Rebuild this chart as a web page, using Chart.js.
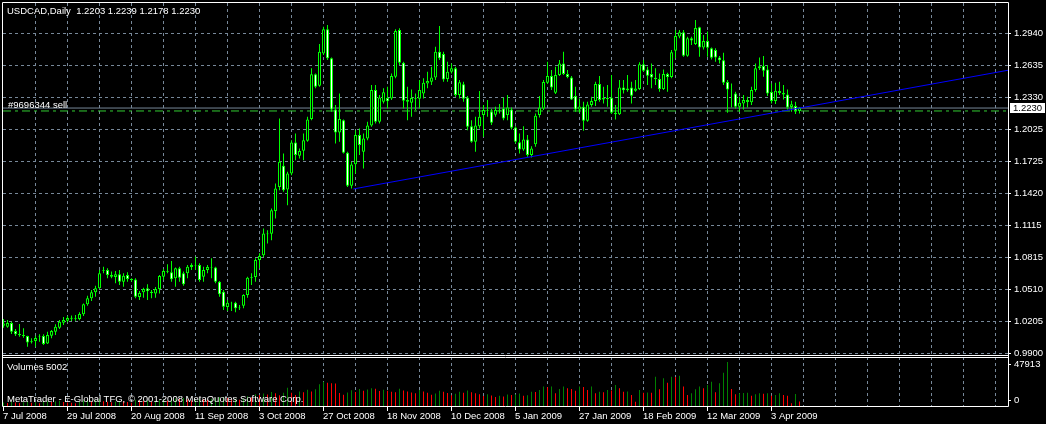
<!DOCTYPE html>
<html>
<head>
<meta charset="utf-8">
<script src="https://cdn.jsdelivr.net/npm/chart.js@4/dist/chart.umd.min.js"></script>
<style>
  html, body { margin: 0; padding: 0; background: #000; }
  #wrap { position: relative; width: 1046px; height: 424px; overflow: hidden; background: #000; }
  #chart { position: absolute; left: 0; top: 0; }
  .lbl { position: absolute; color: #fff; font: 9.5px "Liberation Sans", Arial, sans-serif; white-space: pre; line-height: 1; }
  .bid { position: absolute; left: 1010px; top: 103px; width: 35px; height: 10px; background: #fff; color: #000;
         font: 9.5px "Liberation Sans", Arial, sans-serif; line-height: 10px; text-align: center; }
</style>
</head>
<body>
<div id="wrap">
  <canvas id="chart" width="1046" height="424"></canvas>
  <div class="lbl" style="left:7px;top:6px">USDCAD,Daily  1.2203 1.2239 1.2178 1.2230</div>
  <div class="lbl" style="left:8px;top:100px">#9696344 sell</div>
  <div class="lbl" style="left:7px;top:362px">Volumes 5002</div>
  <div class="lbl" style="left:7px;top:394px">MetaTrader - E-Global TFG, © 2001-2008 MetaQuotes Software Corp.</div>
  <div class="bid">1.2230</div>
</div>
<script>
// USDCAD daily, 7 Jul 2008 .. Apr 2009 (one entry per bar)
const opens = [
  1.0162, 1.0152, 1.0187, 1.0111, 1.0083, 1.0075, 1.0064, 1.0005, 1.0016, 1.0058,
  1.0064, 0.9994, 1.0067, 1.0105, 1.0143, 1.0190, 1.0209, 1.0238, 1.0228, 1.0225,
  1.0270, 1.0365, 1.0422, 1.0479, 1.0517, 1.0682, 1.0691, 1.0644, 1.0625, 1.0650,
  1.0580, 1.0644, 1.0606, 1.0600, 1.0435, 1.0479, 1.0517, 1.0485, 1.0469, 1.0511,
  1.0628, 1.0682, 1.0669, 1.0612, 1.0707, 1.0660, 1.0660, 1.0720, 1.0739, 1.0739,
  1.0628, 1.0691, 1.0717, 1.0714, 1.0580, 1.0485, 1.0340, 1.0381, 1.0381, 1.0327,
  1.0352, 1.0454, 1.0618, 1.0625, 1.0786, 1.0832, 1.1038, 1.1035, 1.1253, 1.1481,
  1.1681, 1.1456, 1.1608, 1.1903, 1.1776, 1.1824, 1.1919, 1.2125, 1.2550, 1.2442,
  1.2749, 1.2978, 1.2702, 1.2217, 1.1998, 1.2115, 1.1805, 1.1491, 1.1697, 1.1973,
  1.1814, 1.1941, 1.2065, 1.2401, 1.2100, 1.2290, 1.2325, 1.2321, 1.2527, 1.2971,
  1.2661, 1.2290, 1.2280, 1.2325, 1.2318, 1.2369, 1.2464, 1.2480, 1.2521, 1.2765,
  1.2743, 1.2505, 1.2575, 1.2607, 1.2353, 1.2455, 1.2328, 1.2058, 1.1909, 1.2058,
  1.2163, 1.2211, 1.2198, 1.2166, 1.2211, 1.2226, 1.2163, 1.2217, 1.2046, 1.1906,
  1.1836, 1.1932, 1.1783, 1.1887, 1.2163, 1.2226, 1.2470, 1.2534, 1.2375, 1.2543,
  1.2654, 1.2553, 1.2521, 1.2344, 1.2217, 1.2242, 1.2109, 1.2258, 1.2296, 1.2458,
  1.2312, 1.2325, 1.2328, 1.2185, 1.2170, 1.2426, 1.2398, 1.2426, 1.2394, 1.2410,
  1.2645, 1.2597, 1.2553, 1.2518, 1.2505, 1.2410, 1.2553, 1.2525, 1.2775, 1.2910,
  1.2949, 1.2727, 1.2892, 1.2838, 1.2997, 1.2806, 1.2867, 1.2797, 1.2781, 1.2711,
  1.2683, 1.2477, 1.2407, 1.2369, 1.2242, 1.2274, 1.2306, 1.2285, 1.2401, 1.2607,
  1.2629, 1.2597, 1.2382, 1.2296, 1.2391, 1.2372, 1.2359, 1.2240, 1.2249, 1.2203
];
const highs = [
  1.0225, 1.0216, 1.0200, 1.0130, 1.0178, 1.0137, 1.0067, 1.0042, 1.0067, 1.0080,
  1.0080, 1.0105, 1.0121, 1.0175, 1.0216, 1.0244, 1.0254, 1.0260, 1.0263, 1.0289,
  1.0374, 1.0447, 1.0501, 1.0542, 1.0691, 1.0723, 1.0707, 1.0676, 1.0682, 1.0691,
  1.0660, 1.0669, 1.0612, 1.0612, 1.0492, 1.0523, 1.0555, 1.0501, 1.0530, 1.0644,
  1.0701, 1.0745, 1.0777, 1.0714, 1.0723, 1.0676, 1.0739, 1.0755, 1.0818, 1.0755,
  1.0723, 1.0739, 1.0802, 1.0723, 1.0587, 1.0501, 1.0406, 1.0390, 1.0390, 1.0359,
  1.0460, 1.0628, 1.0660, 1.0802, 1.0850, 1.1085, 1.1069, 1.1275, 1.1513, 1.2131,
  1.1798, 1.1624, 1.1925, 1.1989, 1.1846, 1.1989, 1.2147, 1.2607, 1.2559, 1.2838,
  1.3003, 1.3019, 1.2711, 1.2258, 1.2369, 1.2122, 1.1814, 1.1719, 1.2020, 1.2036,
  1.1989, 1.2100, 1.2448, 1.2448, 1.2353, 1.2417, 1.2432, 1.2559, 1.2978, 1.2987,
  1.2670, 1.2432, 1.2407, 1.2369, 1.2496, 1.2512, 1.2575, 1.2623, 1.2813, 1.3009,
  1.2765, 1.2670, 1.2654, 1.2623, 1.2496, 1.2480, 1.2344, 1.2115, 1.2147, 1.2391,
  1.2258, 1.2306, 1.2223, 1.2242, 1.2268, 1.2331, 1.2353, 1.2236, 1.2058, 1.1989,
  1.2058, 1.1973, 1.1868, 1.2179, 1.2344, 1.2496, 1.2670, 1.2591, 1.2623, 1.2686,
  1.2765, 1.2591, 1.2534, 1.2432, 1.2321, 1.2290, 1.2290, 1.2337, 1.2480, 1.2534,
  1.2432, 1.2448, 1.2543, 1.2258, 1.2496, 1.2496, 1.2543, 1.2480, 1.2496, 1.2664,
  1.2686, 1.2623, 1.2654, 1.2607, 1.2559, 1.2597, 1.2566, 1.2781, 1.2971, 1.2971,
  1.2971, 1.2908, 1.2908, 1.3066, 1.3003, 1.2924, 1.2956, 1.2806, 1.2797, 1.2724,
  1.2756, 1.2496, 1.2464, 1.2385, 1.2337, 1.2353, 1.2337, 1.2432, 1.2654, 1.2711,
  1.2724, 1.2638, 1.2464, 1.2471, 1.2480, 1.2448, 1.2407, 1.2299, 1.2290, 1.2239
];
const lows = [
  1.0143, 1.0143, 1.0083, 1.0064, 1.0057, 1.0048, 0.9962, 0.9994, 0.9962, 1.0010,
  0.9978, 0.9988, 1.0042, 1.0073, 1.0130, 1.0168, 1.0194, 1.0206, 1.0209, 1.0213,
  1.0254, 1.0352, 1.0397, 1.0438, 1.0511, 1.0660, 1.0612, 1.0612, 1.0565, 1.0549,
  1.0533, 1.0580, 1.0580, 1.0422, 1.0406, 1.0428, 1.0406, 1.0422, 1.0428, 1.0469,
  1.0596, 1.0660, 1.0580, 1.0533, 1.0580, 1.0542, 1.0612, 1.0691, 1.0691, 1.0580,
  1.0580, 1.0660, 1.0612, 1.0565, 1.0438, 1.0311, 1.0301, 1.0301, 1.0289, 1.0311,
  1.0327, 1.0428, 1.0549, 1.0580, 1.0707, 1.0816, 1.0943, 1.0974, 1.1180, 1.1450,
  1.1434, 1.1307, 1.1592, 1.1735, 1.1751, 1.1735, 1.1909, 1.2115, 1.2417, 1.2432,
  1.2734, 1.2686, 1.2195, 1.1894, 1.1909, 1.1798, 1.1481, 1.1466, 1.1608, 1.1783,
  1.1656, 1.1925, 1.2052, 1.2084, 1.2084, 1.2274, 1.2226, 1.2306, 1.2512, 1.2639,
  1.2226, 1.2115, 1.2147, 1.2211, 1.2226, 1.2321, 1.2417, 1.2448, 1.2496, 1.2686,
  1.2480, 1.2480, 1.2559, 1.2337, 1.2321, 1.2290, 1.2020, 1.1900, 1.1814, 1.2036,
  1.1957, 1.2147, 1.2068, 1.2147, 1.2179, 1.2115, 1.2115, 1.2027, 1.1894, 1.1798,
  1.1824, 1.1767, 1.1760, 1.1862, 1.2141, 1.2211, 1.2458, 1.2401, 1.2363, 1.2534,
  1.2543, 1.2512, 1.2306, 1.2195, 1.2185, 1.2014, 1.2100, 1.2242, 1.2249, 1.2290,
  1.2274, 1.2242, 1.2173, 1.2122, 1.2163, 1.2369, 1.2385, 1.2274, 1.2385, 1.2401,
  1.2575, 1.2448, 1.2417, 1.2448, 1.2385, 1.2401, 1.2385, 1.2512, 1.2702, 1.2892,
  1.2718, 1.2718, 1.2829, 1.2829, 1.2718, 1.2787, 1.2718, 1.2692, 1.2670, 1.2654,
  1.2448, 1.2185, 1.2236, 1.2226, 1.2195, 1.2217, 1.2236, 1.2258, 1.2385, 1.2591,
  1.2528, 1.2344, 1.2274, 1.2268, 1.2353, 1.2312, 1.2217, 1.2195, 1.2173, 1.2178
];
const closes = [
  1.0184, 1.0187, 1.0105, 1.0080, 1.0073, 1.0064, 1.0003, 1.0015, 1.0045, 1.0062,
  0.9988, 1.0073, 1.0111, 1.0152, 1.0200, 1.0216, 1.0235, 1.0228, 1.0236, 1.0273,
  1.0365, 1.0422, 1.0479, 1.0517, 1.0660, 1.0688, 1.0644, 1.0628, 1.0650, 1.0580,
  1.0637, 1.0606, 1.0596, 1.0438, 1.0473, 1.0511, 1.0490, 1.0472, 1.0511, 1.0634,
  1.0682, 1.0675, 1.0603, 1.0707, 1.0618, 1.0555, 1.0723, 1.0739, 1.0735, 1.0596,
  1.0691, 1.0720, 1.0712, 1.0580, 1.0460, 1.0343, 1.0381, 1.0376, 1.0327, 1.0335,
  1.0454, 1.0618, 1.0625, 1.0786, 1.0824, 1.1038, 1.1032, 1.1260, 1.1466, 1.1719,
  1.1450, 1.1608, 1.1903, 1.1783, 1.1821, 1.1925, 1.2122, 1.2550, 1.2432, 1.2765,
  1.2978, 1.2702, 1.2217, 1.1998, 1.2125, 1.1805, 1.1491, 1.1694, 1.1973, 1.1878,
  1.1941, 1.2065, 1.2401, 1.2100, 1.2331, 1.2379, 1.2295, 1.2534, 1.2962, 1.2661,
  1.2299, 1.2306, 1.2325, 1.2318, 1.2401, 1.2470, 1.2486, 1.2521, 1.2765, 1.2702,
  1.2502, 1.2575, 1.2607, 1.2353, 1.2474, 1.2318, 1.2052, 1.1909, 1.2065, 1.2147,
  1.2211, 1.2204, 1.2090, 1.2211, 1.2205, 1.2131, 1.2236, 1.2043, 1.1909, 1.1836,
  1.1932, 1.1783, 1.1846, 1.2157, 1.2233, 1.2477, 1.2534, 1.2426, 1.2543, 1.2654,
  1.2553, 1.2525, 1.2312, 1.2217, 1.2245, 1.2109, 1.2264, 1.2296, 1.2458, 1.2306,
  1.2325, 1.2315, 1.2185, 1.2170, 1.2426, 1.2400, 1.2415, 1.2347, 1.2415, 1.2645,
  1.2585, 1.2537, 1.2521, 1.2505, 1.2410, 1.2553, 1.2525, 1.2759, 1.2914, 1.2949,
  1.2727, 1.2892, 1.2872, 1.2990, 1.2806, 1.2867, 1.2803, 1.2708, 1.2711, 1.2683,
  1.2471, 1.2407, 1.2403, 1.2242, 1.2280, 1.2306, 1.2288, 1.2401, 1.2607, 1.2628,
  1.2585, 1.2369, 1.2296, 1.2394, 1.2372, 1.2358, 1.2236, 1.2265, 1.2203, 1.2230
];
const volumes = [
  3800, 3200, 4500, 3900, 3300, 4200, 4800, 3500, 4100, 3000,
  4600, 5200, 4400, 5100, 5600, 4300, 3900, 3500, 3100, 4800,
  5900, 6200, 5300, 5800, 7600, 5100, 4600, 4200, 5000, 5500,
  4900, 4400, 3600, 6800, 6100, 5400, 5900, 4700, 5200, 6600,
  6900, 5800, 7400, 8100, 7500, 8800, 7200, 6100, 6900, 8300,
  7700, 6800, 7900, 8600, 9400, 9900, 8700, 7400, 7900, 6800,
  8200, 10500, 9300, 12800, 11900, 13500, 12400, 15200, 13800, 11600,
  14300, 19800, 14500, 11900, 15700, 14900, 17600, 15900, 18300, 23600,
  26500, 25400, 24900, 24500, 14100, 12200, 14800, 17200, 15300, 18600,
  16500, 17900, 19400, 18800, 16200, 17800, 16500, 15600, 14900, 18900,
  16800, 15900, 14700, 13900, 17300, 15800, 14500, 12300, 13600, 16700,
  15400, 14200, 11800, 13300, 15500, 14300, 16900, 15100, 13800, 12900,
  10800, 12700, 11500, 9800, 11200, 10300, 12600, 11900, 12400, 13700,
  11250, 11600, 15600, 15200, 17400, 21100, 20300, 21100, 13800, 18500,
  21100, 19200, 18500, 16700, 21100, 20800, 17400, 21100, 13800, 15600,
  15000, 17400, 17000, 22900, 19200, 15600, 15900, 12000, 4700, 17400,
  14500, 14800, 14500, 31900, 18150, 30100, 25400, 31900, 31500, 33000,
  21100, 12000, 13800, 18150, 21100, 19200, 22900, 26500, 14900, 24700,
  36300, 47913, 18500, 12700, 13800, 14100, 14400, 11250, 12700, 13800,
  13400, 13800, 11250, 12000, 13800, 12000, 11250, 2900, 13100, 5002
];
const dateLabels = ['7 Jul 2008', '29 Jul 2008', '20 Aug 2008', '11 Sep 2008', '3 Oct 2008', '27 Oct 2008',
  '18 Nov 2008', '10 Dec 2008', '5 Jan 2009', '27 Jan 2009', '18 Feb 2009', '12 Mar 2009', '3 Apr 2009'];
const priceTickLabels = ['0.9900', '1.0205', '1.0510', '1.0815', '1.1115', '1.1420',
  '1.1725', '1.2025', '1.2330', '1.2635', '1.2940'];
const volTickLabels = ['0', '47913'];
// trend line drawn on the chart: bar index / price of its two anchors
const trendX = [87.45, 252];
const trendY = [1.1461, 1.2595];
const bidPrice = 1.2230;
const orderPrice = 1.2202;

const LIME = '#00ff00';
const GRID = '#778899';
const FONT = { family: 'Liberation Sans', size: 9.5 };
const X_MIN = -0.125, X_MAX = 251.125;

const bodies = opens.map((o, i) => ({ x: i, y: [o, closes[i]] }));
const wicks = lows.map((l, i) => ({ x: i, y: [l, highs[i]] }));
const vols = volumes.map((v, i) => ({ x: i, y: v }));
const volColors = volumes.map((v, i) => (i === 0 || v > volumes[i - 1]) ? '#008000' : '#ff0000');

// white frame + double separator between price and volume panels
const frame = {
  id: 'frame',
  afterDraw(chart) {
    const c = chart.ctx, a = chart.chartArea;
    const split = chart.scales.y.bottom;
    c.save();
    c.fillStyle = '#000';
    c.fillRect(a.left, split - 1.5, a.right - a.left, 3);
    c.strokeStyle = '#fff';
    c.lineWidth = 1;
    c.beginPath();
    c.moveTo(a.left - 0.5, a.top - 0.5); c.lineTo(a.right + 0.5, a.top - 0.5);
    c.moveTo(a.left - 0.5, a.top - 0.5); c.lineTo(a.left - 0.5, a.bottom + 0.5);
    c.moveTo(a.right + 0.5, a.top - 0.5); c.lineTo(a.right + 0.5, a.bottom + 0.5);
    c.moveTo(a.left - 0.5, a.bottom + 0.5); c.lineTo(a.right + 0.5, a.bottom + 0.5);
    c.moveTo(a.left - 0.5, split - 1); c.lineTo(a.right + 0.5, split - 1);
    c.moveTo(a.left - 0.5, split + 1); c.lineTo(a.right + 0.5, split + 1);
    c.stroke();
    c.restore();
  }
};

function noPad(s) { s.paddingTop = 0; s.paddingBottom = 0; s.paddingLeft = 0; s.paddingRight = 0; }

new Chart(document.getElementById('chart'), {
  type: 'bar',
  data: {
    datasets: [
      { type: 'line', data: [{ x: trendX[0], y: trendY[0] }, { x: trendX[1], y: trendY[1] }],
        borderColor: '#0000ff', borderWidth: 1, pointRadius: 0, yAxisID: 'y', order: 0 },
      { type: 'line', data: [{ x: X_MIN, y: bidPrice }, { x: X_MAX, y: bidPrice }],
        borderColor: GRID, borderWidth: 1, pointRadius: 0, yAxisID: 'y', order: 3 },
      { type: 'line', data: [{ x: X_MIN, y: orderPrice }, { x: X_MAX, y: orderPrice }],
        borderColor: '#32cd32', borderWidth: 1, borderDash: [8, 4, 3, 4], pointRadius: 0, yAxisID: 'y', order: 4 },
      { data: bodies, yAxisID: 'y', order: 1, grouped: false, barThickness: 3, inflateAmount: 0,
        borderSkipped: false, borderWidth: 1, borderColor: LIME,
        backgroundColor: opens.map((o, i) => closes[i] > o ? '#000000' : '#ffffff') },
      { data: wicks, yAxisID: 'y', order: 2, grouped: false, barThickness: 1, inflateAmount: 0,
        backgroundColor: LIME },
      { data: vols, yAxisID: 'yv', order: 5, grouped: false, barThickness: 1, inflateAmount: 0,
        backgroundColor: volColors }
    ]
  },
  options: {
    responsive: false,
    animation: false,
    events: [],
    layout: { padding: { left: 3, top: 3, right: 0, bottom: 0 } },
    plugins: { legend: { display: false }, tooltip: { enabled: false } },
    scales: {
      x: {
        type: 'linear', position: 'bottom', min: X_MIN, max: X_MAX, offset: false,
        afterBuildTicks: s => { s.ticks = []; for (let k = 0; k < 32; k++) s.ticks.push({ value: X_MIN + 8 * k }); },
        afterFit: s => { s.height = 18; noPad(s); },
        ticks: { autoSkip: false, maxRotation: 0, align: 'start', padding: 0, color: '#fff', font: FONT,
          callback: (v, i) => (i % 2 === 0 && dateLabels[i / 2]) ? dateLabels[i / 2] : '' },
        grid: { offset: false, color: c => c.index === 0 ? 'rgba(0,0,0,0)' : GRID, tickLength: 5,
          tickColor: c => (c.index % 2 === 0 && c.index / 2 < dateLabels.length) ? '#fff' : 'rgba(0,0,0,0)' },
        border: { display: false, dash: [3, 3] }
      },
      y: {
        type: 'linear', position: 'right', stack: 'panels', stackWeight: 353.5, weight: 0,
        min: 0.98696, max: 1.322785,
        afterBuildTicks: s => { s.ticks = priceTickLabels.map((_, k) => ({ value: 0.99 + 0.0304 * k })); },
        afterFit: s => { s.width = 38; noPad(s); },
        ticks: { color: '#fff', padding: 3, font: FONT, callback: (v, i) => priceTickLabels[i] },
        grid: { color: GRID, tickColor: '#fff', tickLength: 3 },
        border: { display: false, dash: [3, 3] }
      },
      yv: {
        type: 'linear', position: 'right', stack: 'panels', stackWeight: 49.5, weight: 1,
        min: 0, max: 53902,
        afterBuildTicks: s => { s.ticks = [{ value: 5990 }, { value: 45194 }]; },
        afterFit: s => { s.width = 38; noPad(s); },
        ticks: { color: '#fff', padding: 3, font: FONT, callback: (v, i) => volTickLabels[i] },
        grid: { drawOnChartArea: false, color: GRID, tickColor: '#fff', tickLength: 3 },
        border: { display: false }
      }
    }
  },
  plugins: [frame]
});
</script>
</body>
</html>
